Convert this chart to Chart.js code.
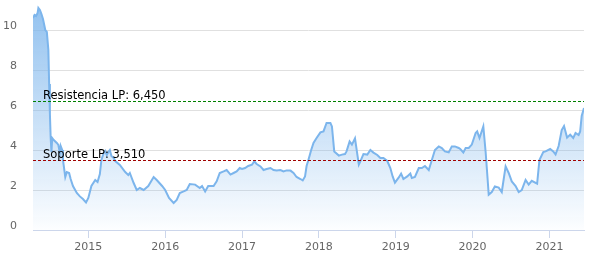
<!DOCTYPE html>
<html>
<head>
<meta charset="utf-8">
<script src="https://cdn.jsdelivr.net/npm/chart.js@4"></script>
<style>
  html, body { margin: 0; padding: 0; background: #fff; }
  #chart { display: block; }
</style>
</head>
<body>
<canvas id="chart" width="596" height="258"></canvas>
<script>
// decimal years
const dates = [
  2014.28, 2014.30, 2014.32, 2014.34, 2014.35, 2014.37, 2014.39, 2014.41, 2014.44, 2014.46,
  2014.48, 2014.49, 2014.50, 2014.51, 2014.52, 2014.53, 2014.55, 2014.59, 2014.61, 2014.63,
  2014.64, 2014.66, 2014.67, 2014.70, 2014.72, 2014.75, 2014.77, 2014.80, 2014.85, 2014.89,
  2014.93, 2014.97, 2015.00, 2015.04, 2015.09, 2015.12, 2015.15, 2015.17, 2015.20, 2015.22,
  2015.24, 2015.26, 2015.28, 2015.30, 2015.33, 2015.35, 2015.41, 2015.48, 2015.52, 2015.54,
  2015.59, 2015.63, 2015.67, 2015.72, 2015.78, 2015.85, 2015.89, 2015.96, 2016.00, 2016.05,
  2016.11, 2016.15, 2016.19, 2016.24, 2016.28, 2016.32, 2016.39, 2016.45, 2016.48, 2016.52,
  2016.56, 2016.63, 2016.67, 2016.71, 2016.76, 2016.80, 2016.85, 2016.89, 2016.93, 2016.97,
  2017.00, 2017.04, 2017.08, 2017.13, 2017.16, 2017.19, 2017.24, 2017.28, 2017.32, 2017.37,
  2017.41, 2017.45, 2017.50, 2017.54, 2017.58, 2017.63, 2017.67, 2017.71, 2017.76, 2017.79,
  2017.82, 2017.84, 2017.86, 2017.90, 2017.93, 2017.97, 2018.02, 2018.06, 2018.10, 2018.15,
  2018.17, 2018.20, 2018.26, 2018.30, 2018.34, 2018.36, 2018.40, 2018.43, 2018.47, 2018.52,
  2018.54, 2018.58, 2018.63, 2018.67, 2018.71, 2018.76, 2018.80, 2018.84, 2018.89, 2018.93,
  2018.96, 2018.99, 2019.04, 2019.07, 2019.10, 2019.15, 2019.19, 2019.21, 2019.25, 2019.30,
  2019.34, 2019.38, 2019.43, 2019.47, 2019.51, 2019.56, 2019.60, 2019.64, 2019.69, 2019.73,
  2019.77, 2019.82, 2019.84, 2019.88, 2019.91, 2019.95, 2019.99, 2020.04, 2020.06, 2020.09,
  2020.14, 2020.17, 2020.19, 2020.21, 2020.25, 2020.29, 2020.34, 2020.38, 2020.43, 2020.47,
  2020.51, 2020.56, 2020.60, 2020.64, 2020.69, 2020.73, 2020.77, 2020.84, 2020.87, 2020.92,
  2020.95, 2021.01, 2021.05, 2021.08, 2021.12, 2021.16, 2021.19, 2021.23, 2021.27, 2021.31,
  2021.34, 2021.38, 2021.40, 2021.42, 2021.45
];
const values = [
  10.6, 10.75, 10.7, 10.85, 11.1, 11.0, 10.8, 10.55, 10.0, 9.9,
  9.0, 7.3, 5.8, 4.6, 3.9, 4.6, 4.5, 4.35, 4.25, 3.85,
  4.2, 4.0, 3.5, 2.65, 2.9, 2.85, 2.55, 2.2, 1.85, 1.68,
  1.55, 1.38, 1.6, 2.2, 2.5, 2.4, 2.8, 3.5, 3.85, 3.95,
  3.75, 3.9, 4.0, 3.7, 3.6, 3.45, 3.25, 2.9, 2.75, 2.85,
  2.35, 2.0, 2.1, 2.0, 2.2, 2.65, 2.5, 2.2, 2.0, 1.6,
  1.35, 1.5, 1.85, 1.93, 2.0, 2.3, 2.27, 2.1, 2.2, 1.93,
  2.2, 2.2, 2.43, 2.85, 2.93, 3.0, 2.77, 2.85, 2.93, 3.1,
  3.05, 3.1, 3.2, 3.27, 3.43, 3.3, 3.18, 3.0, 3.05, 3.1,
  3.0, 2.97, 3.0, 2.93, 2.98, 2.97, 2.85, 2.65, 2.55, 2.48,
  2.68, 3.2, 3.45, 4.0, 4.35, 4.6, 4.88, 4.93, 5.35, 5.35,
  5.18, 3.93, 3.72, 3.77, 3.8, 3.93, 4.43, 4.27, 4.58, 3.27,
  3.43, 3.8, 3.77, 4.0, 3.87, 3.75, 3.6, 3.6, 3.45, 3.1,
  2.68, 2.37, 2.63, 2.82, 2.55, 2.68, 2.82, 2.6, 2.65, 3.1,
  3.1, 3.2, 3.0, 3.5, 4.0, 4.18, 4.1, 3.93, 3.88, 4.18,
  4.18, 4.1, 4.05, 3.88, 4.1, 4.1, 4.27, 4.85, 4.93, 4.6,
  5.18, 3.9, 2.85, 1.77, 1.9, 2.18, 2.12, 1.9, 3.18, 2.85,
  2.43, 2.2, 1.9, 2.0, 2.5, 2.27, 2.46, 2.32, 3.5, 3.9,
  3.93, 4.05, 3.93, 3.78, 4.2, 5.0, 5.2, 4.62, 4.77, 4.6,
  4.85, 4.75, 4.93, 5.7, 6.1
];
const yearTicks = [2015, 2016, 2017, 2018, 2019, 2020, 2021];
const yTicks = [0, 2, 4, 6, 8, 10];
const levelValues = [6.45, 3.51];
const levelLabels = ["Resistencia LP: 6,450", "Soporte LP: 3,510"];
const levelColors = ["#008000", "#a00000"];

const points = dates.map((d, i) => ({ x: d, y: values[i] }));

// dashed support / resistance lines with their text
const levelsPlugin = {
  id: "levels",
  afterDatasetsDraw(chart) {
    const ctx = chart.ctx;
    const area = chart.chartArea;
    const ys = chart.scales.y;
    ctx.save();
    levelValues.forEach((v, i) => {
      const py = Math.round(ys.getPixelForValue(v)) + 0.5;
      ctx.beginPath();
      ctx.setLineDash([3, 2]);
      ctx.lineWidth = 1;
      ctx.strokeStyle = levelColors[i];
      ctx.moveTo(area.left, py);
      ctx.lineTo(area.right, py);
      ctx.stroke();
      ctx.setLineDash([]);
      ctx.fillStyle = "#000";
      ctx.font = "11.5px 'DejaVu Sans'";
      ctx.textBaseline = "alphabetic";
      ctx.fillText(levelLabels[i], area.left + 10, py - 3);
    });
    ctx.restore();
  }
};

const ctx = document.getElementById("chart");
new Chart(ctx, {
  type: "line",
  data: {
    datasets: [{
      data: points,
      borderColor: "#7cb5ec",
      borderWidth: 2,
      pointRadius: 0,
      tension: 0,
      fill: "origin",
      backgroundColor: (c) => {
        const a = c.chart.chartArea;
        if (!a) return "rgba(124,181,236,0.4)";
        const g = c.chart.ctx.createLinearGradient(0, a.top, 0, a.bottom);
        g.addColorStop(0, "rgba(124,181,236,0.85)");
        g.addColorStop(1, "rgba(124,181,236,0.02)");
        return g;
      }
    }]
  },
  options: {
    responsive: false,
    animation: false,
    layout: { padding: { top: 0, right: 12, bottom: 0, left: 0 } },
    plugins: { legend: { display: false }, tooltip: { enabled: false } },
    scales: {
      x: {
        type: "linear",
        min: dates[0],
        max: dates[dates.length - 1],
        afterBuildTicks: (s) => { s.ticks = yearTicks.map((v) => ({ value: v })); },
        afterFit: (s) => { s.height = 28; s.paddingLeft = 0; s.paddingRight = 0; },
        grid: { drawOnChartArea: false, drawTicks: true, tickLength: 8, color: "#ccd6eb" },
        border: { color: "#ccd6eb" },
        ticks: {
          color: "#666",
          font: { family: "'DejaVu Sans'", size: 11 },
          padding: 3,
          maxRotation: 0,
          callback: (v) => String(v)
        }
      },
      y: {
        min: 0,
        max: 11.5,
        afterBuildTicks: (s) => { s.ticks = yTicks.map((v) => ({ value: v })); },
        afterFit: (s) => { s.width = 33; s.paddingTop = 0; s.paddingBottom = 0; },
        grid: { color: "#e0e0e0", lineWidth: 1, drawTicks: false },
        border: { display: false },
        ticks: {
          color: "#666",
          font: { family: "'DejaVu Sans'", size: 11 },
          padding: 16,
          labelOffset: -4
        }
      }
    }
  },
  plugins: [levelsPlugin]
});
</script>
</body>
</html>
